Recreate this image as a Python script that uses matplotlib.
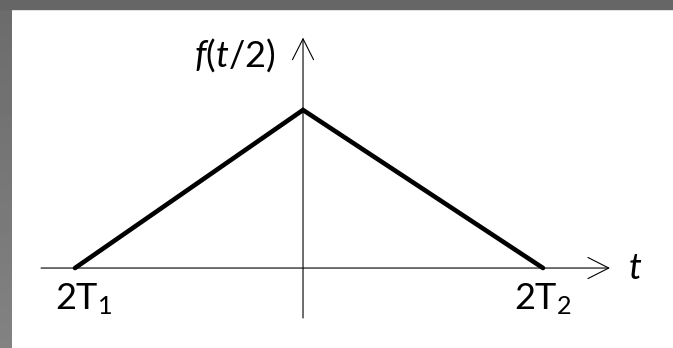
import numpy as np
import matplotlib.pyplot as plt
from matplotlib.patches import Rectangle

plt.rcParams['font.family'] = ['Lato', 'DejaVu Sans']
plt.rcParams['mathtext.fontset'] = 'custom'
plt.rcParams['mathtext.rm'] = 'Lato'
plt.rcParams['mathtext.it'] = 'Lato:italic'

# triangle pulse f(t/2): feet at 2T1 and 2T2, peak at t = 0
t_points = [-1.9, 0.0, 2.0]
f_points = [0.0, 1.0, 0.0]
foot_labels = [r'2T$_1$', r'2T$_2$']
y_label = r'$f(t/2)$'
x_label = r'$t$'

fig = plt.figure(figsize=(6.73, 3.48), dpi=100)
ax = fig.add_axes([0, 0, 1, 1])
ax.set_xlim(-2.525, 3.083)
ax.set_ylim(-0.506, 1.696)
ax.axis('off')

# coordinate axes with open arrow heads
arrow = dict(arrowstyle='->,head_length=15,head_width=7.6', mutation_scale=1,
             lw=0.8, color='black', shrinkA=0, shrinkB=0)
ax.annotate('', xy=(2.558, 0), xytext=(-2.183, 0), arrowprops=arrow)
ax.annotate('', xy=(0, 1.458), xytext=(0, -0.316), arrowprops=arrow)

# the pulse
ax.plot(t_points, f_points, color='black', lw=3.3,
        solid_capstyle='round', solid_joinstyle='miter', zorder=3)

ax.text(t_points[0] + 0.07, -0.2, foot_labels[0], fontsize=26, ha='center', va='center')
ax.text(t_points[-1], -0.2, foot_labels[1], fontsize=26, ha='center', va='center')
ax.text(-0.233, 1.35, y_label, fontsize=26, ha='right', va='center')
ax.text(2.708, 0.0, x_label, fontsize=26, ha='left', va='center')

# slide frame (grey strips top and left)
fig.patches.append(Rectangle((0, 1 - 9 / 348), 1, 9 / 348, transform=fig.transFigure,
                             color='#666666', zorder=5))
side = fig.add_axes([0, 0, 12 / 673, 1])
grad = np.linspace(0.42, 0.51, 100).reshape(-1, 1)
side.imshow(grad, cmap='gray', vmin=0, vmax=1, aspect='auto', origin='upper')
side.axis('off')

fig.savefig('out.png', dpi=100)
